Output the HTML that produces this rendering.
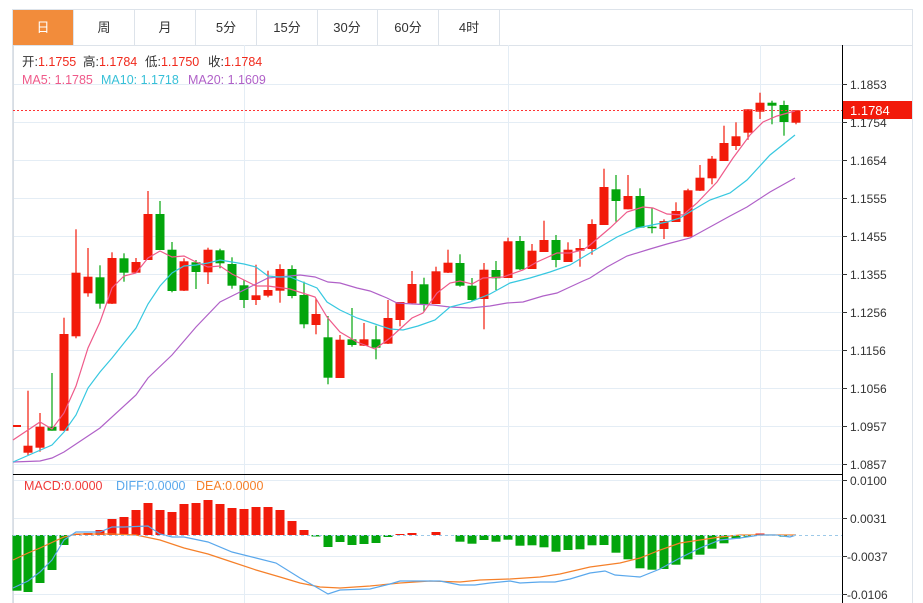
<!DOCTYPE html>
<html><head><meta charset="utf-8"><style>
body{margin:0;background:#fff;width:923px;height:603px;overflow:hidden;font-family:"Liberation Sans","Noto Sans CJK SC",sans-serif}
</style></head><body>
<svg id="s" width="923" height="603" xmlns="http://www.w3.org/2000/svg" style="position:absolute;left:0;top:0;font-family:'Liberation Sans','Noto Sans CJK SC',sans-serif">
<rect x="12.5" y="9.5" width="900" height="600" fill="none" stroke="#dde3ea"/>
<rect x="13" y="10" width="60" height="35" fill="#f28c3b"/>
<g stroke="#dde3ea"><line x1="73.5" y1="10" x2="73.5" y2="45"/><line x1="134.5" y1="10" x2="134.5" y2="45"/><line x1="195.5" y1="10" x2="195.5" y2="45"/><line x1="256.5" y1="10" x2="256.5" y2="45"/><line x1="317.5" y1="10" x2="317.5" y2="45"/><line x1="377.5" y1="10" x2="377.5" y2="45"/><line x1="438.5" y1="10" x2="438.5" y2="45"/><line x1="499.5" y1="10" x2="499.5" y2="45"/><line x1="13" y1="45.5" x2="912" y2="45.5"/></g>
<g font-size="13" text-anchor="middle" fill="#333"><text x="43" y="32" fill="#fff">日</text><text x="104" y="32">周</text><text x="165" y="32">月</text><text x="226" y="32">5分</text><text x="287" y="32">15分</text><text x="347" y="32">30分</text><text x="408" y="32">60分</text><text x="469" y="32">4时</text></g>
<g stroke="#e4edf5"><line x1="13" y1="84.5" x2="842" y2="84.5"/><line x1="13" y1="122.5" x2="842" y2="122.5"/><line x1="13" y1="160.5" x2="842" y2="160.5"/><line x1="13" y1="198.5" x2="842" y2="198.5"/><line x1="13" y1="236.5" x2="842" y2="236.5"/><line x1="13" y1="274.5" x2="842" y2="274.5"/><line x1="13" y1="312.5" x2="842" y2="312.5"/><line x1="13" y1="350.5" x2="842" y2="350.5"/><line x1="13" y1="388.5" x2="842" y2="388.5"/><line x1="13" y1="426.5" x2="842" y2="426.5"/><line x1="13" y1="464.5" x2="842" y2="464.5"/>
<line x1="13" y1="480.5" x2="842" y2="480.5"/><line x1="13" y1="518.5" x2="842" y2="518.5"/><line x1="13" y1="556.5" x2="842" y2="556.5"/><line x1="13" y1="594.5" x2="842" y2="594.5"/>
<line x1="244.5" y1="45" x2="244.5" y2="603"/><line x1="508.5" y1="45" x2="508.5" y2="603"/><line x1="760.5" y1="45" x2="760.5" y2="603"/></g>
<line x1="13.5" y1="45" x2="13.5" y2="603" stroke="#d8dde3"/>
<line x1="13" y1="474.5" x2="842" y2="474.5" stroke="#000"/>
<line x1="842.5" y1="45" x2="842.5" y2="603" stroke="#000"/>
<g id="c"></g>
<line x1="13" y1="110.5" x2="842" y2="110.5" stroke="#f33" stroke-dasharray="2,2"/>
<line x1="13" y1="535.5" x2="842" y2="535.5" stroke="#9cc9e8" stroke-dasharray="3,3"/>
<g stroke="#333"><line x1="842" y1="84.5" x2="847" y2="84.5"/><line x1="842" y1="122.5" x2="847" y2="122.5"/><line x1="842" y1="160.5" x2="847" y2="160.5"/><line x1="842" y1="198.5" x2="847" y2="198.5"/><line x1="842" y1="236.5" x2="847" y2="236.5"/><line x1="842" y1="274.5" x2="847" y2="274.5"/><line x1="842" y1="312.5" x2="847" y2="312.5"/><line x1="842" y1="350.5" x2="847" y2="350.5"/><line x1="842" y1="388.5" x2="847" y2="388.5"/><line x1="842" y1="426.5" x2="847" y2="426.5"/><line x1="842" y1="464.5" x2="847" y2="464.5"/><line x1="842" y1="480.5" x2="847" y2="480.5"/><line x1="842" y1="518.5" x2="847" y2="518.5"/><line x1="842" y1="556.5" x2="847" y2="556.5"/><line x1="842" y1="594.5" x2="847" y2="594.5"/></g>
<g font-size="12" fill="#333"><text x="850" y="89">1.1853</text><text x="850" y="127">1.1754</text><text x="850" y="165">1.1654</text><text x="850" y="203">1.1555</text><text x="850" y="241">1.1455</text><text x="850" y="279">1.1355</text><text x="850" y="317">1.1256</text><text x="850" y="355">1.1156</text><text x="850" y="393">1.1056</text><text x="850" y="431">1.0957</text><text x="850" y="469">1.0857</text>
<text x="850" y="485">0.0100</text><text x="850" y="523">0.0031</text><text x="847" y="561">-0.0037</text><text x="847" y="599">-0.0106</text></g>
<rect x="843" y="101" width="69" height="18" fill="#f21a0a"/>
<text x="850" y="115" font-size="13" fill="#fff">1.1784</text>
<g font-size="12.5"><text x="22" y="66" fill="#333">开:<tspan fill="#f0291c">1.1755</tspan></text><text x="83" y="66" fill="#333">高:<tspan fill="#f0291c">1.1784</tspan></text><text x="145" y="66" fill="#333">低:<tspan fill="#f0291c">1.1750</tspan></text><text x="208" y="66" fill="#333">收:<tspan fill="#f0291c">1.1784</tspan></text>
<text x="22" y="84" fill="#ef5a8a">MA5: 1.1785</text><text x="101" y="84" fill="#37c0d8">MA10: 1.1718</text><text x="188" y="84" fill="#b061c8">MA20: 1.1609</text>
<text x="24" y="490" fill="#ef3a3a">MACD:0.0000</text><text x="116" y="490" fill="#5aa8ec">DIFF:0.0000</text><text x="196" y="490" fill="#f5802a">DEA:0.0000</text></g>
</svg>
<script>
var R='#f21a0a',G='#03a50c',ns='http://www.w3.org/2000/svg',g=document.getElementById('c');
function el(t,a){var e=document.createElementNS(ns,t);for(var k in a)e.setAttribute(k,a[k]);g.appendChild(e);return e;}
var C=[[28,445.7,452.7,390.7,455,R],[40,426.7,447.7,413,451.7,R],[52,426.7,430.7,373,430.7,G],[64,334,430.7,317.7,431,R],[76,272.7,336.3,229.3,338.3,R],[88,276.7,293.3,248,296.7,R],[100,277.3,303.7,265.3,308.7,G],[112,258,303.7,252.3,304,R],[124,258.3,272.7,253.3,281.7,G],[136,262,272.7,258,273,R],[148,214,260,191,260,R],[160,214,250,201,250,G],[172,249.7,291,242,292.3,G],[184,261.3,290.7,258.3,291,R],[196,262.3,272,260,289,G],[208,249.7,272.3,247.7,284,R],[220,250.3,263.3,248.7,268.3,G],[232,264,285.7,257.3,288.7,G],[244,285.3,300,280,308,G],[256,295.3,300,264.7,305,R],[268,290,295.7,270.7,297.3,R],[280,269,290.7,264.3,302.7,R],[292,269,296,265.3,298.3,G],[304,295,324.3,281.7,328.3,G],[316,314,325,298.7,334.3,R],[328,337.3,377.7,316,384.3,G],[340,339.7,378,335,378,R],[352,339.3,345,308,346.7,G],[364,339.3,345.7,323,346,R],[376,339.3,347.7,325.7,359.3,G],[388,318,343.7,300,344,R],[400,302,320,302,326.3,R],[412,284,303.3,271,304,R],[424,284.3,304,277.7,311.7,G],[436,271.3,304,266.7,304,R],[448,262.7,272.7,249.7,273,R],[460,263,285.7,254.3,286.7,G],[472,285.7,300,278,300.7,G],[484,269.7,299,263,329.3,R],[496,270,278.3,261,290,G],[508,241.3,278,237.7,278,R],[520,241,269.3,236,270,G],[532,250.7,269,244,269,R],[544,240,252,220.7,252,R],[556,240,260,235,267.3,G],[568,249.7,262,242.3,262,R],[580,248,250.7,239,266.7,R],[592,224,249,219.3,254.7,R],[604,187,225,168.7,225,R],[616,189.3,201,175,221.7,G],[628,196,209.3,175,209.3,R],[640,196,227.7,188.3,228,G],[652,226.7,228,208.3,233.3,G],[664,221,229,219.3,239,R],[676,211,222,202.3,222,R],[688,190.3,236.7,188.7,237,R],[700,177.7,190.7,165,191,R],[712,158.7,178.3,156,184.3,R],[724,143,161,125.7,161,R],[736,136.3,146,122.3,150,R],[748,109.3,132.7,109.3,139.7,R],[760,102.7,111.7,92.7,119,R],[772,102.7,105.7,100.7,124.3,G],[784,105,122,100.7,135.7,G],[796,110.3,122.7,110.3,124.3,R]];
el('rect',{x:13,y:425,width:8,height:2,fill:R});
C.forEach(function(c){el('line',{x1:c[0],x2:c[0],y1:c[3],y2:c[4],stroke:c[5],'stroke-width':1.2});el('rect',{x:c[0]-4.5,y:c[1],width:9,height:Math.max(1.5,c[2]-c[1]),fill:c[5]});});
function pl(p,col){el('polyline',{points:p,fill:'none',stroke:col,'stroke-width':1.2});}
pl('13,462 40,461 52,458 64,452 100,428 136,395 148,378 172,355 196,327 220,302 244,290 268,278 290,276 300,275 315,277 328,282 340,283 357,288 370,291 387,298 397,303 413,304 433,305 450,307 470,308 490,306 507,303 523,302 543,296 557,293 570,287 583,281 590,278 607,267 627,256 650,249 667,244 690,238 710,227 730,216 747,207 770,192 795,178','#b061c8');
pl('13,462 52,445 64,432 76,415 88,388 100,372 112,358 124,343 136,328 148,304 160,286 172,273 184,266 196,265 208,263 220,260 232,262 244,264 256,267 268,276 280,277 290,277 317,288 327,302 340,310 357,318 375,324 390,329 403,330 418,326 435,320 450,307 470,302 490,294 510,283 530,278 550,272 570,265 590,253 617,237 637,228 667,222 680,218 693,210 710,200 730,193 747,180 770,155 795,135','#37c8e0');
pl('13,440 40,422 52,429 64,413 76,386 88,348 100,322 112,288 124,276 136,273 148,258 160,251 172,257 184,256 196,262 208,267 220,266 232,274 244,280 256,286 268,286 290,289 315,297 327,317 340,332 357,342 375,349 390,338 412,318 423,313 437,293 450,283 460,281 472,284 483,278 503,277 523,270 537,262 557,253 570,253 583,250 590,245 610,228 627,212 643,207 653,208 667,214 683,215 697,203 717,182 733,158 750,135 763,122 777,116 795,111','#ef5a8a');
var M=[[17,590.7],[28,592],[40,583],[52,570],[64,545],[76,534],[88,533],[100,530],[112,519],[124,517],[136,510],[148,503],[160,510],[172,512],[184,504],[196,503],[208,500],[220,504],[232,508],[244,509],[256,507],[268,507],[280,510],[292,521],[304,530],[316,536.5],[328,547],[340,542],[352,545],[364,544],[376,543],[388,537],[400,534],[412,533],[436,532],[460,541.7],[472,543.7],[484,540],[496,541.7],[508,539.7],[520,545.7],[532,545.3],[544,547.3],[556,551.7],[568,550],[580,549.3],[592,545.3],[604,545],[616,552.7],[628,559.3],[640,568.3],[652,569.7],[664,569],[676,564.7],[688,559.3],[700,554.7],[712,548.7],[724,543.3],[736,538.7],[748,536.5],[760,533.5],[784,536.7]];
var Z=535;M.forEach(function(m){var up=m[1]<Z;el('rect',{x:m[0]-4.5,y:up?m[1]:Z,width:9,height:Math.max(1,Math.abs(m[1]-Z)),fill:up?R:G});});
pl('13,560 28,553 40,548 64,537 76,534 112,534 136,535 160,540 184,548 208,554 232,562 256,570 280,577 300,583 320,587 340,588 370,586 400,583 430,581 460,582 480,580 510,579 540,577 560,574 590,567 620,563 640,558 660,550 680,543 700,540 720,537 740,535 796,535','#f5802a');
pl('13,588 28,581 40,572 52,560 64,540 76,532 100,532 112,527 124,527 148,526 160,534 172,537 184,537 208,542 232,552 256,558 276,563 300,578 316,587 328,594 340,590 370,589 390,584 400,581 430,581 440,581 460,585 475,585 490,583 510,581 520,583 540,582 555,582 570,579 590,573 605,571 615,575 640,577 660,569 680,558 700,548 720,540 740,538 760,535 775,535 790,537 796,535','#5aa8ec');
</script>
</body></html>
